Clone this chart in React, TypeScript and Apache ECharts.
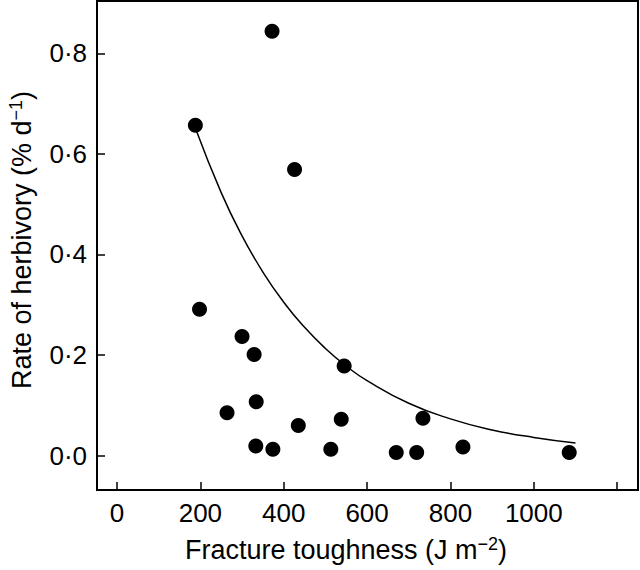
import React, { useEffect, useRef } from "react";
import * as echarts from "echarts";

const toughness = [188, 372, 426, 198, 300, 329, 334, 264, 333, 374, 435, 513, 538, 545, 670, 719, 734, 830, 1085];
const herbivory = [0.657, 0.844, 0.569, 0.291, 0.237, 0.201, 0.107, 0.085, 0.019, 0.0125, 0.06, 0.0125, 0.072, 0.178, 0.006, 0.006, 0.074, 0.017, 0.006];

const curveX = [190, 250, 300, 350, 400, 450, 500, 550, 600, 700, 800, 900, 1000, 1100];
const curveY = [0.647, 0.523, 0.437, 0.365, 0.305, 0.255, 0.213, 0.178, 0.149, 0.104, 0.073, 0.051, 0.036, 0.025];

const xTicks = [0, 200, 400, 600, 800, 1000, 1200];
const xLabels = [0, 200, 400, 600, 800, 1000];
const yTicks = [0, 0.2, 0.4, 0.6, 0.8];

const FONT = "'Liberation Sans', Arial, Helvetica, sans-serif";

export default function App() {
  const ref = useRef<HTMLDivElement>(null);
  useEffect(() => {
    if (!ref.current) return;
    const chart = echarts.init(ref.current, null, { renderer: "svg" });
    const axisCommon = {
      axisLine: { show: true, onZero: false, lineStyle: { color: "#000", width: 2 } },
      splitLine: { show: false },
    };
    chart.setOption({
      animation: false,
      backgroundColor: "#fff",
      grid: { left: 97, right: 2, top: 1, bottom: 80, show: true, borderColor: "#000", borderWidth: 2, backgroundColor: "transparent" },
      xAxis: {
        type: "value",
        min: -48,
        max: 1250,
        ...axisCommon,
        axisTick: { show: true, inside: true, length: 8, customValues: xTicks, lineStyle: { color: "#000", width: 1.5 } },
        axisLabel: {
          customValues: xLabels,
          margin: 10,
          color: "#000",
          fontSize: 26,
          fontFamily: FONT,
          formatter: (v: number) => String(v),
        },
      },
      yAxis: {
        type: "value",
        min: -0.0685,
        max: 0.904,
        ...axisCommon,
        axisTick: { show: true, inside: true, length: 8, customValues: yTicks, lineStyle: { color: "#000", width: 1.5 } },
        axisLabel: {
          customValues: yTicks,
          margin: 10,
          color: "#000",
          fontSize: 26,
          fontFamily: FONT,
          formatter: (v: number) => v.toFixed(1).replace(".", "\u00b7"),
        },
      },
      series: [
        {
          type: "line",
          data: curveX.map((x, i) => [x, curveY[i]]),
          smooth: true,
          showSymbol: false,
          lineStyle: { color: "#000", width: 1.5 },
          z: 2,
        },
        {
          type: "scatter",
          data: toughness.map((x, i) => [x, herbivory[i]]),
          symbol: "circle",
          symbolSize: 15,
          itemStyle: { color: "#000", opacity: 1 },
          z: 3,
        },
      ],
      graphic: [
        {
          type: "text",
          x: 346,
          y: 550,
          style: {
            text: "{n|Fracture toughness (J m}{s|\u22122}{n|)}",
            align: "center",
            verticalAlign: "middle",
            fill: "#000",
            fontFamily: FONT,
            rich: {
              n: { fontSize: 27, lineHeight: 30, fontFamily: FONT, fill: "#000" },
              s: { fontSize: 18, verticalAlign: "top", fontFamily: FONT, fill: "#000" },
            },
          },
        },
        {
          type: "text",
          x: 22,
          y: 240,
          rotation: Math.PI / 2,
          style: {
            text: "{n|Rate of herbivory (% d}{s|\u22121}{n|)}",
            align: "center",
            verticalAlign: "middle",
            fill: "#000",
            fontFamily: FONT,
            rich: {
              n: { fontSize: 27, lineHeight: 30, fontFamily: FONT, fill: "#000" },
              s: { fontSize: 18, verticalAlign: "top", fontFamily: FONT, fill: "#000" },
            },
          },
        },
      ],
    });
    return () => chart.dispose();
  }, []);
  return (
    <div
      ref={ref}
      style={{ position: "fixed", left: 0, top: 0, width: 640, height: 570, background: "#fff" }}
    />
  );
}
